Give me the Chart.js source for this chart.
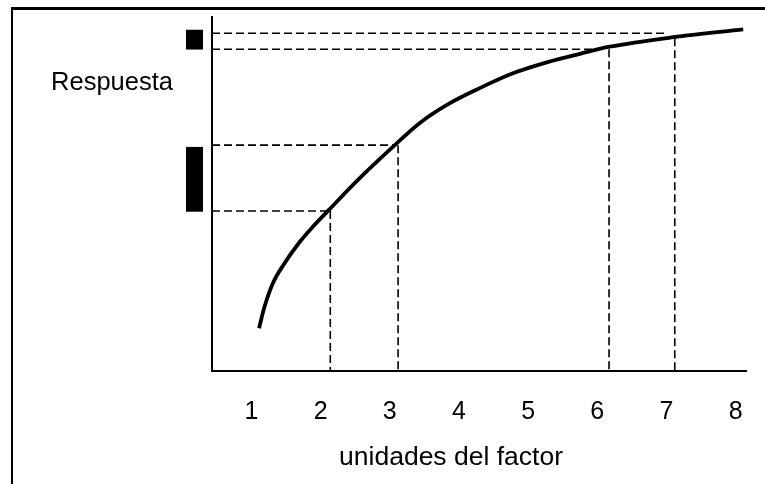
<!DOCTYPE html>
<html>
<head>
<meta charset="utf-8">
<script src="https://cdn.jsdelivr.net/npm/chart.js@4/dist/chart.umd.min.js"></script>
<style>
  html, body { margin: 0; padding: 0; background: #ffffff; }
  #wrap { position: relative; width: 765px; height: 484px; overflow: hidden; background: #ffffff; }
  #frame { position: absolute; left: 11px; top: 7px; width: 800px; height: 520px;
           border-left: 2px solid #000; border-top: 3px solid #000; box-sizing: border-box; }
  canvas { position: absolute; left: 0; top: 0; }
</style>
</head>
<body>
<div id="wrap">
  <div id="frame"></div>
  <canvas id="c" width="765" height="484"></canvas>
</div>
<script>
// ---- data ----
const xTickValues = [1, 2, 3, 4, 5, 6, 7, 8];
const xAxisTitle = "unidades del factor";
const yAxisLabel = "Respuesta";

// response curve
const curveX = [1.11, 1.19, 1.31, 1.46, 1.70, 1.89, 2.12, 2.54, 3.10, 3.43, 3.82, 4.30, 4.78, 5.27, 5.75, 6.18, 7.10, 8.11];
const curveY = [12.1, 18.2, 24.8, 29.9, 36.5, 40.8, 45.5, 54.0, 64.3, 70.0, 75.1, 79.9, 84.1, 87.2, 89.6, 91.6, 94.3, 96.5];

// horizontal dashed guides (response level, and where they end on x)
const hDashY    = [45.2, 63.8, 90.9, 95.4];
const hDashXEnd = [2.13, 3.10, 6.00, 7.00];

// vertical dashed guides (factor level, and the response where they start)
const vDashX    = [2.14, 3.12, 6.17, 7.12];
const vDashYTop = [45.2, 63.8, 90.9, 94.0];

// black response-range bars left of the axis [low, high]
const rangeBarLow  = [90.8, 45.0];
const rangeBarHigh = [96.4, 63.3];

const xMin = 0.43, xMax = 8.15, yMin = 0, yMax = 100;

// ---- build datasets ----
const FONT = '"Liberation Sans", Arial, sans-serif';
const datasets = [];
datasets.push({
  data: curveX.map((x, i) => ({ x: x, y: curveY[i] })),
  borderColor: '#000', borderWidth: 3.8, pointRadius: 0,
  cubicInterpolationMode: 'monotone', fill: false, order: 0
});
hDashY.forEach((y, i) => {
  datasets.push({
    data: [{ x: xMin, y: y }, { x: hDashXEnd[i], y: y }],
    borderColor: '#000', borderWidth: 1.6, borderDash: [8, 4],
    pointRadius: 0, fill: false, order: 1
  });
});
vDashX.forEach((x, i) => {
  datasets.push({
    data: [{ x: x, y: vDashYTop[i] }, { x: x, y: yMin }],
    borderColor: '#000', borderWidth: 1.6, borderDash: [8, 4],
    pointRadius: 0, fill: false, order: 1
  });
});

const decorPlugin = {
  id: 'decor',
  afterDraw(chart) {
    const ctx = chart.ctx, ca = chart.chartArea, ys = chart.scales.y;
    ctx.save();
    // range bars
    ctx.fillStyle = '#000';
    rangeBarLow.forEach((lo, i) => {
      const yTop = ys.getPixelForValue(rangeBarHigh[i]);
      const yBot = ys.getPixelForValue(lo);
      ctx.fillRect(ca.left - 26, yTop, 17, yBot - yTop);
    });
    // texts
    ctx.fillStyle = '#000';
    ctx.textAlign = 'center';
    ctx.textBaseline = 'alphabetic';
    ctx.font = '25.5px ' + FONT;
    ctx.fillText(yAxisLabel, 112, 89.5);
    ctx.font = '26.5px ' + FONT;
    ctx.fillText(xAxisTitle, ca.left + (ca.right - ca.left) * 0.4476, 465);
    ctx.restore();
  }
};

new Chart(document.getElementById('c'), {
  type: 'line',
  data: { datasets: datasets },
  options: {
    responsive: false,
    animation: false,
    devicePixelRatio: 1,
    layout: { padding: { left: 212, right: 19, top: 17, bottom: 0 } },
    plugins: { legend: { display: false }, tooltip: { enabled: false } },
    scales: {
      x: {
        type: 'linear', min: xMin, max: xMax,
        grid: { display: false, drawTicks: false },
        border: { display: true, color: '#000', width: 2 },
        ticks: { color: '#000', font: { size: 25, family: FONT }, padding: 26, maxRotation: 0 },
        afterBuildTicks: (s) => { s.ticks = xTickValues.map(v => ({ value: v })); },
        afterFit: (s) => { s.height = 113; s.paddingLeft = 0; s.paddingRight = 0; }
      },
      y: {
        type: 'linear', min: yMin, max: yMax,
        grid: { display: false, drawTicks: false },
        border: { display: true, color: '#000', width: 2 },
        ticks: { display: false },
        afterFit: (s) => { s.width = 0; s.paddingTop = 0; s.paddingBottom = 0; }
      }
    }
  },
  plugins: [decorPlugin]
});
</script>
</body>
</html>
